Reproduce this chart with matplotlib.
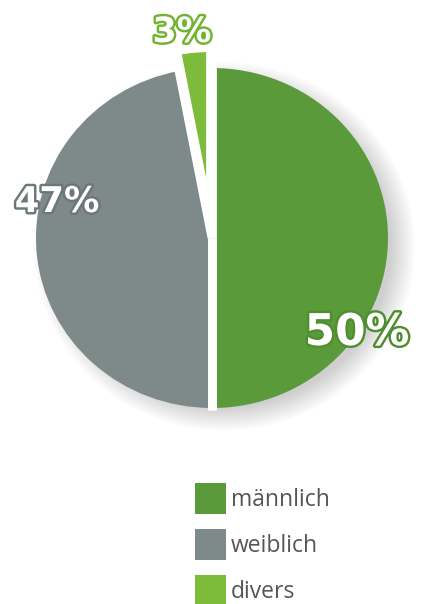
import numpy as np
import matplotlib.pyplot as plt
import matplotlib.patheffects as pe
from matplotlib.patches import Circle, Rectangle

# Data
labels = ['männlich', 'weiblich', 'divers']
shares = [50, 47, 3]
colors = ['#5a9a3b', '#7e8a89', '#7dbb3b']
outline = ['#4f8f30', '#6c7877', '#72b32f']
explode = [0, 0, 0.094]

W, H = 421, 604
fig = plt.figure(figsize=(W / 100, H / 100), dpi=100)
Rx, Ry = 176, 170  # pie is slightly stretched horizontally in the original
lim = 1.3
cx, cy = 212, H - 238
ax = fig.add_axes([(cx - lim * Rx) / W, (cy - lim * Ry) / H, 2 * lim * Rx / W, 2 * lim * Ry / H])
ax.set_xlim(-lim, lim)
ax.set_ylim(-lim, lim)
ax.axis('off')

# soft shadow to the lower right
for k in range(12):
    ax.add_patch(Circle((0.07, -0.05), 0.95 + k * 0.012, facecolor='#000000',
                        alpha=0.016, edgecolor='none', zorder=0))

wedges, _ = ax.pie(shares, colors=colors, startangle=90, counterclock=False,
                   explode=explode, radius=1, wedgeprops=dict(linewidth=0, zorder=2))
ax.set_aspect('auto')
ax.set_xlim(-lim, lim)
ax.set_ylim(-lim, lim)

# white gaps along the wedge edges
for w in wedges:
    x0, y0 = w.center
    for ang in (w.theta1, w.theta2):
        a = np.deg2rad(ang)
        ax.plot([x0, x0 + 1.01 * np.cos(a)], [y0, y0 + 1.01 * np.sin(a)],
                color='white', lw=6.3, solid_capstyle='butt', zorder=3)

# percentage labels: white fill, coloured outline
label_pos = [(357, 345), (57, 212), (182, 42)]
label_size = [31.5, 25.5, 25]
for i, (px, py) in enumerate(label_pos):
    t = fig.text(px / W, 1 - py / H, f'{shares[i]}%', color='white',
                 fontsize=label_size[i], family='DejaVu Sans', fontweight='bold',
                 ha='center', va='baseline')
    t.set_path_effects([pe.withStroke(linewidth=3.5, foreground=outline[i])])

# legend
sq = 31
for i, (lab, col) in enumerate(zip(labels, colors)):
    top = 483 + i * 46
    fig.patches.append(Rectangle((195 / W, 1 - (top + sq) / H), sq / W, sq / H,
                                 transform=fig.transFigure, facecolor=col,
                                 edgecolor='none'))
    fig.text(231 / W, 1 - (top + sq / 2 + 2) / H, lab, fontsize=16.5,
             family='Open Sans', color='#555555', ha='left', va='center')

fig.savefig('out.png', dpi=100)
